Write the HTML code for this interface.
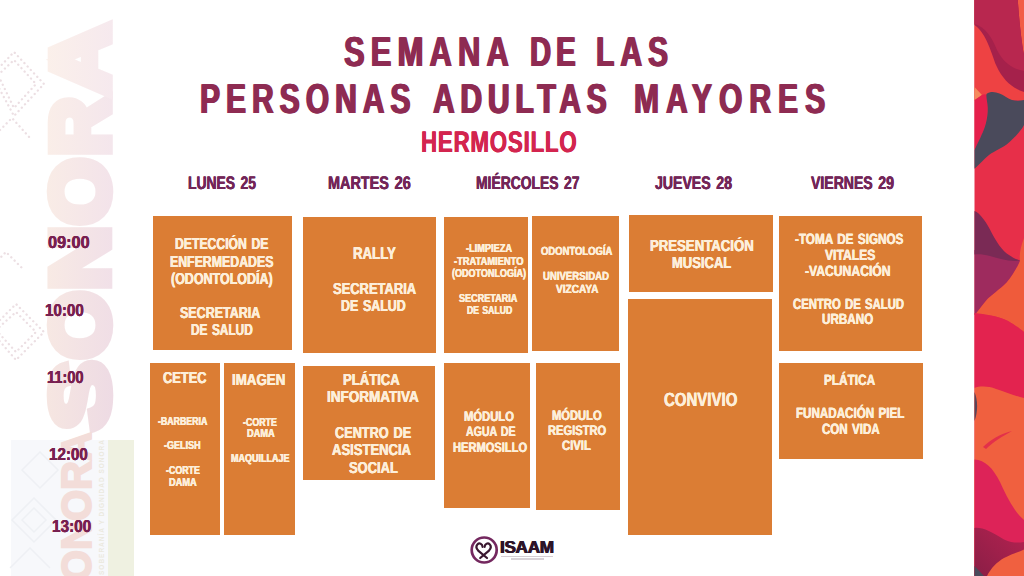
<!DOCTYPE html>
<html lang="es"><head><meta charset="utf-8"><title>Semana de las Personas Adultas Mayores</title>
<style>
html,body{margin:0;padding:0}
body{width:1024px;height:576px;position:relative;overflow:hidden;background:#fff;font-family:"Liberation Sans",sans-serif}
.b{position:absolute;background:#DB7D34}
.t{position:absolute;font-weight:bold;line-height:1;white-space:nowrap;transform-origin:0 0;font-family:"Liberation Sans",sans-serif}
</style></head><body>
<!-- left watermark -->
<div style="position:absolute;left:11px;top:440px;width:97px;height:136px;background:#F7F8FB"></div>
<div style="position:absolute;left:108px;top:440px;width:26px;height:136px;background:#EFF1E1"></div>
<svg style="position:absolute;left:0;top:0" width="150" height="576" viewBox="0 0 150 576">
  <defs>
    <linearGradient id="wm" x1="0" y1="0" x2="1" y2="0" gradientUnits="objectBoundingBox">
      <stop offset="0" stop-color="#FBEFE5"/><stop offset="1" stop-color="#F3E3EC"/>
    </linearGradient>
  </defs>
  <g fill="none" stroke="#ECDFE3" stroke-width="2.3" stroke-linecap="round" stroke-dasharray="0.1 4.6">
    <path d="M-8 75 L14 52 L44 84 L14 116 Z"/>
    <path d="M-2 75 L14 60 L36 84 L14 108 Z"/>
    <path d="M-10 140 L12 118 L30 138"/>
    <path d="M-10 330 L16 304 L44 332 L16 360 Z"/>
    <path d="M-4 330 L16 312 L36 332 L16 352 Z"/>
    <path d="M-12 270 L6 252 L22 268"/>
  </g>
  <g fill="none" stroke="#EEF0F4" stroke-width="1.5">
    <path d="M22 470 L40 452 L58 470 L40 488 Z"/>
    <path d="M12 520 L34 498 L56 520 L34 542 Z"/>
    <path d="M22 520 L34 508 L46 520 L34 532 Z"/>
    <path d="M10 568 L30 548 L50 568"/>
  </g>
  <linearGradient id="wg0" gradientUnits="userSpaceOnUse" x1="0" y1="-61" x2="0" y2="4"><stop offset="0" stop-color="#F6E6E1"/><stop offset="1" stop-color="#EEDBE4"/></linearGradient>
  <text transform="translate(107.8 430) rotate(-90)" font-family="'Liberation Sans',sans-serif" font-weight="bold" font-size="82" textLength="69" lengthAdjust="spacingAndGlyphs" fill="url(#wg0)" stroke="url(#wg0)" stroke-width="8.5" stroke-linejoin="miter">S</text>
  <linearGradient id="wg1" gradientUnits="userSpaceOnUse" x1="0" y1="-61" x2="0" y2="4"><stop offset="0" stop-color="#F7E8E3"/><stop offset="1" stop-color="#F0DEE6"/></linearGradient>
  <text transform="translate(107.8 359) rotate(-90)" font-family="'Liberation Sans',sans-serif" font-weight="bold" font-size="82" textLength="68" lengthAdjust="spacingAndGlyphs" fill="url(#wg1)" stroke="url(#wg1)" stroke-width="8.5" stroke-linejoin="miter">O</text>
  <linearGradient id="wg2" gradientUnits="userSpaceOnUse" x1="0" y1="-61" x2="0" y2="4"><stop offset="0" stop-color="#F8EAE4"/><stop offset="1" stop-color="#F1E0E8"/></linearGradient>
  <text transform="translate(107.8 290) rotate(-90)" font-family="'Liberation Sans',sans-serif" font-weight="bold" font-size="82" textLength="64" lengthAdjust="spacingAndGlyphs" fill="url(#wg2)" stroke="url(#wg2)" stroke-width="8.5" stroke-linejoin="miter">N</text>
  <linearGradient id="wg3" gradientUnits="userSpaceOnUse" x1="0" y1="-61" x2="0" y2="4"><stop offset="0" stop-color="#F9ECE6"/><stop offset="1" stop-color="#F3E3EA"/></linearGradient>
  <text transform="translate(107.8 225) rotate(-90)" font-family="'Liberation Sans',sans-serif" font-weight="bold" font-size="82" textLength="67" lengthAdjust="spacingAndGlyphs" fill="url(#wg3)" stroke="url(#wg3)" stroke-width="8.5" stroke-linejoin="miter">O</text>
  <linearGradient id="wg4" gradientUnits="userSpaceOnUse" x1="0" y1="-61" x2="0" y2="4"><stop offset="0" stop-color="#FAEEE8"/><stop offset="1" stop-color="#F4E6EC"/></linearGradient>
  <text transform="translate(107.8 156) rotate(-90)" font-family="'Liberation Sans',sans-serif" font-weight="bold" font-size="82" textLength="59" lengthAdjust="spacingAndGlyphs" fill="url(#wg4)" stroke="url(#wg4)" stroke-width="8.5" stroke-linejoin="miter">R</text>
  <linearGradient id="wg5" gradientUnits="userSpaceOnUse" x1="0" y1="-61" x2="0" y2="4"><stop offset="0" stop-color="#FBF0EA"/><stop offset="1" stop-color="#F6E9EE"/></linearGradient>
  <text transform="translate(107.8 95) rotate(-90)" font-family="'Liberation Sans',sans-serif" font-weight="bold" font-size="82" textLength="71" lengthAdjust="spacingAndGlyphs" fill="url(#wg5)" stroke="url(#wg5)" stroke-width="8.5" stroke-linejoin="miter">A</text>
  <text transform="translate(90.5 608) rotate(-90)" font-family="'Liberation Sans',sans-serif" font-weight="bold" font-size="42" textLength="176" lengthAdjust="spacingAndGlyphs" fill="#F3DDD9" stroke="#F3DDD9" stroke-width="2">SONORA</text>
  <text transform="translate(104 575) rotate(-90)" font-family="'Liberation Sans',sans-serif" font-weight="bold" font-size="6.5" letter-spacing="1" fill="#EBE9DF">SOBERANÍA Y DIGNIDAD SONORA</text>
</svg>
<!-- right decorative strip -->
<svg style="position:absolute;left:974px;top:0" width="50" height="576" viewBox="974 0 50 576">
  <defs>
    <linearGradient id="plum" x1="0" y1="0" x2="0" y2="1"><stop offset="0" stop-color="#7A2A55"/><stop offset="1" stop-color="#9A2A63"/></linearGradient>
    <linearGradient id="dm" x1="1" y1="0" x2="0" y2="1"><stop offset="0" stop-color="#B52250"/><stop offset="1" stop-color="#8A1E46"/></linearGradient>
  </defs>
  <rect x="974.5" y="0" width="50" height="576" fill="#E72F49"/>
  <rect x="974.5" y="0" width="50" height="100" fill="#EE4243"/>
  <path d="M1017.75 0 L1024 0 L1024 55 C1022 45 1019.5 25 1017.75 0 Z" fill="#F25C45"/>
  <path d="M974.5 0 L1017.75 0 C1019.5 25 1022 45 1024 55 L1024 92 C1012 88 1003 80 996.5 66 C991.5 54 987 34 974.5 25 Z" fill="#A5214B"/>
  <path d="M974.5 0 L1017.75 0 C1019.5 25 1022 45 1024 55 L1024 71 C1012 69 1003 62 997 50 C992 38 986 27 974.5 24 Z" fill="#B8274F"/>
  <path d="M974.5 87 L982 95 L974.5 101 Z" fill="#F58A5C"/>
  <path d="M974.5 100 L982 95 C985 93.5 987 94 987.75 97 L987.75 107.5 C987 120 984 131 981.5 135 C979 141 976.5 145 974.5 150 Z" fill="#E5204C"/>
  <path d="M986.5 94 C992 90 1000 93 1006 97 C1012 101 1018 101.5 1024 100 L1024 125 C1021 131 1014 138 1009 142.5 C1003 148 994 151 989 155 C984 159 979 165 974.5 168.75 L974.5 150 C977 144 980 139 981.5 135 C985 128 988 118 987.75 107.5 C987.5 102 986 97 986.5 94 Z" fill="#4A4A5B"/>
  <path d="M1024 238 C1021 246 1019 254 1020 260.5 C1018 266 1012 276 1006.5 282.5 C1000 289 990 296 986.5 300 C982 305 978 311 974.5 315 C985 314 998 316 1008 321 C1015 325 1020 329 1024 332 Z" fill="#EF5B3B"/>
  <path d="M974.5 250 L1020 260.5 C1018 266 1012 276 1006.5 282.5 C1000 289 990 296 986.5 300 C982 305 978 311 974.5 315 Z" fill="#9E2B5E"/>
  <path d="M974.5 211 C980 213 987 223 991.5 232.5 C996 241 1002 251 1009 255 C1013 258 1017 259.5 1020 260.5 C1010 262.5 1000 258.5 990 256 C984 254.5 979 254 974.5 254.5 Z" fill="#7A2A55"/>
  <path d="M974.5 313 C985 314 998 316 1008 321 C1015 325 1020 329 1024 332 L1024 398 C1015 396 1005 392 996 389 C988 386 980 386 974.5 388 Z" fill="#E3234F"/>
  <path d="M974.5 388 C980 386 988 386 996 389 C1005 392 1015 396 1024 398 L1024 576 L974.5 576 Z" fill="#F0603F"/>
  <path d="M974.5 392 C978 400 978 412 974.5 421 Z" fill="#5A4458"/>
  <path d="M983 447 C990 440 1000 434 1012 431 C1003 436 993 442 986 449 Z" fill="#E3304A"/>
  <path d="M974.5 459.5 C985 460 993 468 1000 482 C1006 495 1014 512 1024 520 L1024 576 L974.5 576 Z" fill="#DD2358"/>
  <path d="M974.5 528 C982 527 992 532 1004 539.5 C1012 543 1018 543 1024 542 L1024 576 L974.5 576 Z" fill="url(#dm)"/>
  <path d="M987 576 C991 568 997 562 1004 558 C1012 554 1019 552 1024 549.5 L1024 576 Z" fill="#F06040"/>
  <path d="M974.5 566 L984 576 L974.5 576 Z" fill="#4A4A5B"/>
</svg>
<!-- logo -->
<svg style="position:absolute;left:466px;top:532px" width="36" height="36" viewBox="466 532 36 36">
  <circle cx="484.2" cy="550" r="12.5" fill="none" stroke="#74285F" stroke-width="2.7"/>
  <g fill="none" stroke="#3A1830" stroke-width="2.2" stroke-linecap="round">
    <path d="M482.6 546.8 C482.3 543.6 479.2 542.6 477.6 544.2 C475.6 546.2 476.6 548.8 478.2 550.6 L487 558"/>
    <path d="M484.6 546.8 C484.9 543.6 488 542.6 489.6 544.2 C491.6 546.2 490.6 548.8 489 550.6 L480.2 558"/>
  </g>
</svg>
<span class="t" style="left:500.4px;top:540.3px;font-size:16.6px;color:#2E1428;letter-spacing:-0.3px;transform:scaleX(1.035);text-shadow:0.5px 0 0 #2E1428,-0.5px 0 0 #2E1428">ISAAM</span>
<div style="position:absolute;left:501px;top:555.6px;width:52px;height:1.5px;background:#D5CDD3"></div>
<div style="position:absolute;left:511px;top:558px;width:33px;height:1.5px;background:#DAD3D8"></div>

<div class="b" style="left:153px;top:216px;width:138.7px;height:134.4px"></div>
<div class="b" style="left:150.2px;top:363.2px;width:70.3px;height:172.3px"></div>
<div class="b" style="left:224.0px;top:363.2px;width:70.6px;height:172.3px"></div>
<div class="b" style="left:302.5px;top:216.5px;width:133.0px;height:136.0px"></div>
<div class="b" style="left:302.5px;top:366.3px;width:132.5px;height:113.7px"></div>
<div class="b" style="left:444.3px;top:216.5px;width:84.1px;height:136.0px"></div>
<div class="b" style="left:531.5px;top:215.5px;width:87.0px;height:135.0px"></div>
<div class="b" style="left:444.2px;top:362.5px;width:85.8px;height:145.5px"></div>
<div class="b" style="left:536.2px;top:362.5px;width:83.8px;height:147.5px"></div>
<div class="b" style="left:628.5px;top:215px;width:144.0px;height:77px"></div>
<div class="b" style="left:627.5px;top:298.5px;width:144.0px;height:236.5px"></div>
<div class="b" style="left:779.4px;top:215.5px;width:142.6px;height:135.0px"></div>
<div class="b" style="left:779.4px;top:363.2px;width:143.9px;height:96.3px"></div>
<span class="t" style="left:344.34px;top:30.52px;font-size:41.74px;color:#8E2B52;transform:rotate(0.03deg) scaleX(0.74);text-shadow:1.128px 0 0 #8E2B52,-1.128px 0 0 #8E2B52;letter-spacing:8.371px">SEMANA</span>
<span class="t" style="left:529.5px;top:30.52px;font-size:41.74px;color:#8E2B52;transform:rotate(0.03deg) scaleX(0.7);text-shadow:1.193px 0 0 #8E2B52,-1.193px 0 0 #8E2B52;letter-spacing:7.174px">DE</span>
<span class="t" style="left:595.72px;top:30.52px;font-size:41.74px;color:#8E2B52;transform:rotate(0.03deg) scaleX(0.72);text-shadow:1.159px 0 0 #8E2B52,-1.159px 0 0 #8E2B52;letter-spacing:8.324px">LAS</span>
<span class="t" style="left:200.22px;top:78.32px;font-size:41.74px;color:#8E2B52;transform:rotate(0.03deg) scaleX(0.72);text-shadow:1.159px 0 0 #8E2B52,-1.159px 0 0 #8E2B52;letter-spacing:8.3px">PERSONAS</span>
<span class="t" style="left:432.93px;top:78.32px;font-size:41.74px;color:#8E2B52;transform:rotate(0.03deg) scaleX(0.72);text-shadow:1.159px 0 0 #8E2B52,-1.159px 0 0 #8E2B52;letter-spacing:8.022px">ADULTAS</span>
<span class="t" style="left:633.52px;top:78.32px;font-size:41.74px;color:#8E2B52;transform:rotate(0.03deg) scaleX(0.72);text-shadow:1.159px 0 0 #8E2B52,-1.159px 0 0 #8E2B52;letter-spacing:9.708px">MAYORES</span>
<span class="t" style="left:421.28px;top:127.35px;font-size:29.71px;color:#D3254F;transform:rotate(0.03deg) scaleX(0.75);text-shadow:0.475px 0 0 #D3254F,-0.475px 0 0 #D3254F;letter-spacing:1.06px">HERMOSILLO</span>
<span class="t" style="left:188.06px;top:174.18px;font-size:18.26px;color:#732658;transform:rotate(0.03deg) scaleX(0.7596);text-shadow:0.361px 0 0 #732658,-0.361px 0 0 #732658;word-spacing:2.2px">LUNES 25</span>
<span class="t" style="left:327.72px;top:174.18px;font-size:18.26px;color:#732658;transform:rotate(0.03deg) scaleX(0.7903);text-shadow:0.347px 0 0 #732658,-0.347px 0 0 #732658;word-spacing:2.2px">MARTES 26</span>
<span class="t" style="left:475.9px;top:174.18px;font-size:18.26px;color:#732658;transform:rotate(0.03deg) scaleX(0.7604);text-shadow:0.36px 0 0 #732658,-0.36px 0 0 #732658;word-spacing:2.2px">MIÉRCOLES 27</span>
<span class="t" style="left:655.05px;top:174.18px;font-size:18.26px;color:#732658;transform:rotate(0.03deg) scaleX(0.773);text-shadow:0.354px 0 0 #732658,-0.354px 0 0 #732658;word-spacing:2.2px">JUEVES 28</span>
<span class="t" style="left:811.26px;top:174.18px;font-size:18.26px;color:#732658;transform:rotate(0.03deg) scaleX(0.7704);text-shadow:0.356px 0 0 #732658,-0.356px 0 0 #732658;word-spacing:2.2px">VIERNES 29</span>
<span class="t" style="left:48.24px;top:234.22px;font-size:17.39px;color:#782050;transform:rotate(0.03deg) scaleX(0.9363);text-shadow:0.149px 0 0 #782050,-0.149px 0 0 #782050">09:00</span>
<span class="t" style="left:45.17px;top:301.82px;font-size:17.39px;color:#782050;transform:rotate(0.03deg) scaleX(0.8736);text-shadow:0.159px 0 0 #782050,-0.159px 0 0 #782050">10:00</span>
<span class="t" style="left:47.14px;top:368.72px;font-size:17.39px;color:#782050;transform:rotate(0.03deg) scaleX(0.8417);text-shadow:0.165px 0 0 #782050,-0.165px 0 0 #782050">11:00</span>
<span class="t" style="left:49.35px;top:445.62px;font-size:17.39px;color:#782050;transform:rotate(0.03deg) scaleX(0.8736);text-shadow:0.159px 0 0 #782050,-0.159px 0 0 #782050">12:00</span>
<span class="t" style="left:52.34px;top:518.42px;font-size:17.39px;color:#782050;transform:rotate(0.03deg) scaleX(0.882);text-shadow:0.158px 0 0 #782050,-0.158px 0 0 #782050">13:00</span>
<span class="t" style="left:175.05px;top:235.95px;font-size:15.94px;color:#FDEEDA;transform:rotate(0.03deg) scaleX(0.7661);text-shadow:0.312px 0 0 #FDEEDA,-0.312px 0 0 #FDEEDA;word-spacing:1.59px">DETECCIÓN DE</span>
<span class="t" style="left:169.71px;top:254.45px;font-size:15.94px;color:#FDEEDA;transform:rotate(0.03deg) scaleX(0.7732);text-shadow:0.309px 0 0 #FDEEDA,-0.309px 0 0 #FDEEDA">ENFERMEDADES</span>
<span class="t" style="left:170.89px;top:270.95px;font-size:15.94px;color:#FDEEDA;transform:rotate(0.03deg) scaleX(0.7834);text-shadow:0.305px 0 0 #FDEEDA,-0.305px 0 0 #FDEEDA">(ODONTOLODÍA)</span>
<span class="t" style="left:180.28px;top:305.45px;font-size:15.94px;color:#FDEEDA;transform:rotate(0.03deg) scaleX(0.7826);text-shadow:0.306px 0 0 #FDEEDA,-0.306px 0 0 #FDEEDA">SECRETARIA</span>
<span class="t" style="left:190.66px;top:322.45px;font-size:15.94px;color:#FDEEDA;transform:rotate(0.03deg) scaleX(0.7433);text-shadow:0.322px 0 0 #FDEEDA,-0.322px 0 0 #FDEEDA;word-spacing:1.59px">DE SALUD</span>
<span class="t" style="left:353.03px;top:246.38px;font-size:16.96px;color:#FDEEDA;transform:rotate(0.03deg) scaleX(0.7806);text-shadow:0.326px 0 0 #FDEEDA,-0.326px 0 0 #FDEEDA">RALLY</span>
<span class="t" style="left:333.24px;top:281.2px;font-size:15.94px;color:#FDEEDA;transform:rotate(0.03deg) scaleX(0.8121);text-shadow:0.294px 0 0 #FDEEDA,-0.294px 0 0 #FDEEDA">SECRETARIA</span>
<span class="t" style="left:341.18px;top:297.7px;font-size:15.94px;color:#FDEEDA;transform:rotate(0.03deg) scaleX(0.7801);text-shadow:0.306px 0 0 #FDEEDA,-0.306px 0 0 #FDEEDA;word-spacing:1.59px">DE SALUD</span>
<span class="t" style="left:465.68px;top:242.65px;font-size:11.59px;color:#FDEEDA;transform:rotate(0.03deg) scaleX(0.7952);text-shadow:0.219px 0 0 #FDEEDA,-0.219px 0 0 #FDEEDA">-LIMPIEZA</span>
<span class="t" style="left:454.43px;top:256.15px;font-size:11.59px;color:#FDEEDA;transform:rotate(0.03deg) scaleX(0.8062);text-shadow:0.216px 0 0 #FDEEDA,-0.216px 0 0 #FDEEDA">-TRATAMIENTO</span>
<span class="t" style="left:452.22px;top:267.65px;font-size:11.59px;color:#FDEEDA;transform:rotate(0.03deg) scaleX(0.7792);text-shadow:0.223px 0 0 #FDEEDA,-0.223px 0 0 #FDEEDA">(ODOTONLOGÍA)</span>
<span class="t" style="left:458.85px;top:293.15px;font-size:11.59px;color:#FDEEDA;transform:rotate(0.03deg) scaleX(0.784);text-shadow:0.222px 0 0 #FDEEDA,-0.222px 0 0 #FDEEDA">SECRETARIA</span>
<span class="t" style="left:466.89px;top:305.4px;font-size:11.59px;color:#FDEEDA;transform:rotate(0.03deg) scaleX(0.7495);text-shadow:0.232px 0 0 #FDEEDA,-0.232px 0 0 #FDEEDA;word-spacing:1.16px">DE SALUD</span>
<span class="t" style="left:541.34px;top:246.4px;font-size:11.88px;color:#FDEEDA;transform:rotate(0.03deg) scaleX(0.7972);text-shadow:0.224px 0 0 #FDEEDA,-0.224px 0 0 #FDEEDA">ODONTOLOGÍA</span>
<span class="t" style="left:542.82px;top:270.9px;font-size:11.88px;color:#FDEEDA;transform:rotate(0.03deg) scaleX(0.8064);text-shadow:0.221px 0 0 #FDEEDA,-0.221px 0 0 #FDEEDA">UNIVERSIDAD</span>
<span class="t" style="left:555.68px;top:284.4px;font-size:11.88px;color:#FDEEDA;transform:rotate(0.03deg) scaleX(0.8507);text-shadow:0.209px 0 0 #FDEEDA,-0.209px 0 0 #FDEEDA">VIZCAYA</span>
<span class="t" style="left:463.59px;top:409.55px;font-size:13.77px;color:#FDEEDA;transform:rotate(0.03deg) scaleX(0.8163);text-shadow:0.253px 0 0 #FDEEDA,-0.253px 0 0 #FDEEDA">MÓDULO</span>
<span class="t" style="left:465.64px;top:424.55px;font-size:13.77px;color:#FDEEDA;transform:rotate(0.03deg) scaleX(0.7704);text-shadow:0.268px 0 0 #FDEEDA,-0.268px 0 0 #FDEEDA;word-spacing:1.38px">AGUA DE</span>
<span class="t" style="left:453.13px;top:441.05px;font-size:13.77px;color:#FDEEDA;transform:rotate(0.03deg) scaleX(0.8074);text-shadow:0.256px 0 0 #FDEEDA,-0.256px 0 0 #FDEEDA">HERMOSILLO</span>
<span class="t" style="left:552.37px;top:409.3px;font-size:13.77px;color:#FDEEDA;transform:rotate(0.03deg) scaleX(0.8111);text-shadow:0.255px 0 0 #FDEEDA,-0.255px 0 0 #FDEEDA">MÓDULO</span>
<span class="t" style="left:547.88px;top:423.8px;font-size:13.77px;color:#FDEEDA;transform:rotate(0.03deg) scaleX(0.8094);text-shadow:0.255px 0 0 #FDEEDA,-0.255px 0 0 #FDEEDA">REGISTRO</span>
<span class="t" style="left:562.23px;top:438.8px;font-size:13.77px;color:#FDEEDA;transform:rotate(0.03deg) scaleX(0.8199);text-shadow:0.252px 0 0 #FDEEDA,-0.252px 0 0 #FDEEDA">CIVIL</span>
<span class="t" style="left:342.72px;top:371.95px;font-size:15.94px;color:#FDEEDA;transform:rotate(0.03deg) scaleX(0.8225);text-shadow:0.291px 0 0 #FDEEDA,-0.291px 0 0 #FDEEDA">PLÁTICA</span>
<span class="t" style="left:327.12px;top:388.95px;font-size:15.94px;color:#FDEEDA;transform:rotate(0.03deg) scaleX(0.8478);text-shadow:0.282px 0 0 #FDEEDA,-0.282px 0 0 #FDEEDA">INFORMATIVA</span>
<span class="t" style="left:334.84px;top:425.45px;font-size:15.94px;color:#FDEEDA;transform:rotate(0.03deg) scaleX(0.7983);text-shadow:0.3px 0 0 #FDEEDA,-0.3px 0 0 #FDEEDA;word-spacing:1.59px">CENTRO DE</span>
<span class="t" style="left:331.84px;top:441.95px;font-size:15.94px;color:#FDEEDA;transform:rotate(0.03deg) scaleX(0.8186);text-shadow:0.292px 0 0 #FDEEDA,-0.292px 0 0 #FDEEDA">ASISTENCIA</span>
<span class="t" style="left:348.98px;top:460.45px;font-size:15.94px;color:#FDEEDA;transform:rotate(0.03deg) scaleX(0.8118);text-shadow:0.295px 0 0 #FDEEDA,-0.295px 0 0 #FDEEDA">SOCIAL</span>
<span class="t" style="left:163.08px;top:369.7px;font-size:15.94px;color:#FDEEDA;transform:rotate(0.03deg) scaleX(0.8065);text-shadow:0.296px 0 0 #FDEEDA,-0.296px 0 0 #FDEEDA">CETEC</span>
<span class="t" style="left:158.29px;top:416.15px;font-size:11.59px;color:#FDEEDA;transform:rotate(0.03deg) scaleX(0.7593);text-shadow:0.229px 0 0 #FDEEDA,-0.229px 0 0 #FDEEDA">-BARBERIA</span>
<span class="t" style="left:164.44px;top:439.65px;font-size:11.59px;color:#FDEEDA;transform:rotate(0.03deg) scaleX(0.7794);text-shadow:0.223px 0 0 #FDEEDA,-0.223px 0 0 #FDEEDA">-GELISH</span>
<span class="t" style="left:166.12px;top:465.4px;font-size:11.59px;color:#FDEEDA;transform:rotate(0.03deg) scaleX(0.7646);text-shadow:0.227px 0 0 #FDEEDA,-0.227px 0 0 #FDEEDA">-CORTE</span>
<span class="t" style="left:169.05px;top:477.4px;font-size:11.59px;color:#FDEEDA;transform:rotate(0.03deg) scaleX(0.7977);text-shadow:0.218px 0 0 #FDEEDA,-0.218px 0 0 #FDEEDA">DAMA</span>
<span class="t" style="left:232.13px;top:371.95px;font-size:15.94px;color:#FDEEDA;transform:rotate(0.03deg) scaleX(0.8373);text-shadow:0.286px 0 0 #FDEEDA,-0.286px 0 0 #FDEEDA">IMAGEN</span>
<span class="t" style="left:243.28px;top:416.9px;font-size:11.59px;color:#FDEEDA;transform:rotate(0.03deg) scaleX(0.7646);text-shadow:0.227px 0 0 #FDEEDA,-0.227px 0 0 #FDEEDA">-CORTE</span>
<span class="t" style="left:246.55px;top:427.65px;font-size:11.59px;color:#FDEEDA;transform:rotate(0.03deg) scaleX(0.7977);text-shadow:0.218px 0 0 #FDEEDA,-0.218px 0 0 #FDEEDA">DAMA</span>
<span class="t" style="left:231.22px;top:452.65px;font-size:11.59px;color:#FDEEDA;transform:rotate(0.03deg) scaleX(0.7768);text-shadow:0.224px 0 0 #FDEEDA,-0.224px 0 0 #FDEEDA">MAQUILLAJE</span>
<span class="t" style="left:650.41px;top:238.2px;font-size:15.94px;color:#FDEEDA;transform:rotate(0.03deg) scaleX(0.8265);text-shadow:0.289px 0 0 #FDEEDA,-0.289px 0 0 #FDEEDA">PRESENTACIÓN</span>
<span class="t" style="left:672.35px;top:255.45px;font-size:15.94px;color:#FDEEDA;transform:rotate(0.03deg) scaleX(0.8157);text-shadow:0.293px 0 0 #FDEEDA,-0.293px 0 0 #FDEEDA">MUSICAL</span>
<span class="t" style="left:664.46px;top:390.24px;font-size:19.13px;color:#FDEEDA;transform:rotate(0.03deg) scaleX(0.785);text-shadow:0.366px 0 0 #FDEEDA,-0.366px 0 0 #FDEEDA">CONVIVIO</span>
<span class="t" style="left:795.35px;top:231.81px;font-size:14.93px;color:#FDEEDA;transform:rotate(0.03deg) scaleX(0.7851);text-shadow:0.285px 0 0 #FDEEDA,-0.285px 0 0 #FDEEDA;word-spacing:1.49px">-TOMA DE SIGNOS</span>
<span class="t" style="left:824.69px;top:247.51px;font-size:14.93px;color:#FDEEDA;transform:rotate(0.03deg) scaleX(0.8129);text-shadow:0.275px 0 0 #FDEEDA,-0.275px 0 0 #FDEEDA">VITALES</span>
<span class="t" style="left:805.32px;top:263.56px;font-size:14.93px;color:#FDEEDA;transform:rotate(0.03deg) scaleX(0.8149);text-shadow:0.275px 0 0 #FDEEDA,-0.275px 0 0 #FDEEDA">-VACUNACIÓN</span>
<span class="t" style="left:792.73px;top:296.91px;font-size:14.93px;color:#FDEEDA;transform:rotate(0.03deg) scaleX(0.7585);text-shadow:0.295px 0 0 #FDEEDA,-0.295px 0 0 #FDEEDA;word-spacing:1.49px">CENTRO DE SALUD</span>
<span class="t" style="left:821.78px;top:311.81px;font-size:14.93px;color:#FDEEDA;transform:rotate(0.03deg) scaleX(0.7822);text-shadow:0.286px 0 0 #FDEEDA,-0.286px 0 0 #FDEEDA">URBANO</span>
<span class="t" style="left:823.71px;top:372.81px;font-size:14.93px;color:#FDEEDA;transform:rotate(0.03deg) scaleX(0.7913);text-shadow:0.283px 0 0 #FDEEDA,-0.283px 0 0 #FDEEDA">PLÁTICA</span>
<span class="t" style="left:796.47px;top:406.31px;font-size:14.93px;color:#FDEEDA;transform:rotate(0.03deg) scaleX(0.7787);text-shadow:0.288px 0 0 #FDEEDA,-0.288px 0 0 #FDEEDA;word-spacing:1.49px">FUNADACIÓN PIEL</span>
<span class="t" style="left:822.16px;top:422.06px;font-size:14.93px;color:#FDEEDA;transform:rotate(0.03deg) scaleX(0.7752);text-shadow:0.289px 0 0 #FDEEDA,-0.289px 0 0 #FDEEDA;word-spacing:1.49px">CON VIDA</span>
</body></html>
